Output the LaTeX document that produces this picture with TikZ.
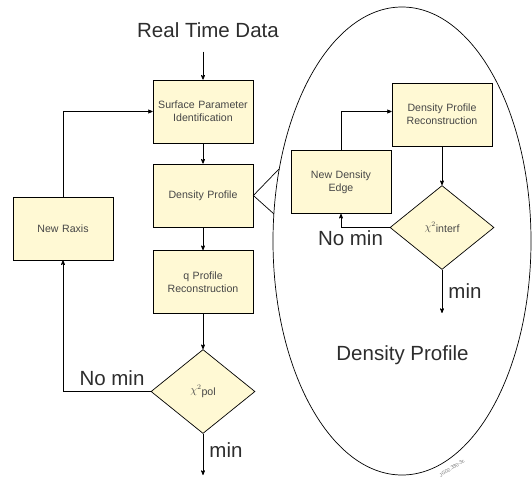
\documentclass[tikz,border=0pt]{standalone}
\usepackage{fontspec}
\setmainfont{Liberation Sans}
\usepackage{tikz}
\usetikzlibrary{arrows,shapes.geometric,positioning}
\definecolor{boxfill}{RGB}{255,249,212}
\definecolor{inktext}{RGB}{45,45,45}
\definecolor{boxtext}{RGB}{70,70,70}

\begin{document}
\begin{tikzpicture}[->,>=stealth',x=1pt,y=1pt,line width=0.7pt]
\tikzstyle{box}=[rectangle,draw,fill=boxfill,text=boxtext,minimum width=100pt,minimum height=63pt,text width=92pt,align=center,font=\fontsize{10.6}{13.3}\selectfont]
\tikzstyle{test}=[diamond,draw,fill=boxfill,text=boxtext,aspect=1.24,minimum width=104pt,minimum height=84pt,inner sep=0pt,font=\fontsize{10.6}{13.3}\selectfont]
\tikzstyle{big}=[text=inktext,anchor=base,inner sep=0pt,font=\fontsize{20.5}{24}\selectfont]

\useasboundingbox (0,0) rectangle (532,480);

% main loop
\node[big]  (title) at (208,442) {Real Time Data};
\node[box]  (surf) at (203,368.5) {Surface Parameter\\Identification};
\node[box]  (dens) [below of=surf, node distance=84pt] {Density Profile};
\node[box]  (qprof) [below of=dens, node distance=86.5pt] {q Profile\\Reconstruction};
\node[test] (chipol) [below of=qprof, node distance=109.5pt] {$\chi^{2}$\raisebox{-1.5pt}{pol}};
\node[box]  (raxis) at (63,251.5) {New Raxis};
\coordinate (polend) at (203,5);
\node[big]  (polno) at (112,95) {No min};
\node[big]  (polmin) at (226,23) {min};

% density profile detail
\draw[-] (402,239) ellipse [x radius=129pt, y radius=234pt];
\coordinate (rim1) at (279,311);
\coordinate (rim2) at (274,266);
\node[box]  (dpr) at (442,365.5) {Density Profile\\Reconstruction};
\node[box]  (nde) at (341,298) {New Density\\Edge};
\node[test] (chiint) [below of=dpr, node distance=113pt] {$\chi^{2}$\raisebox{-1.5pt}{interf}};
\coordinate (intend) at (442,167);
\node[big]  (intno) at (350.5,235) {No min};
\node[big]  (intmin) at (465,182) {min};
\node[big]  (inner) at (402.5,120) {Density Profile};
\node[text=black!55,inner sep=0pt,rotate=32,font=\fontsize{5}{6}\selectfont] (tag) at (452,12) {JG02.330-3c};

\path
(surf) edge (dens)
(dens) edge (qprof)
(qprof) edge (chipol)
(chipol) edge (polend)
(dpr) edge (chiint)
(chiint) edge (intend);
\draw ([yshift=-13pt]title.south -| surf.north) -- (surf);
\draw (chipol.west) -| (raxis.south);
\draw (raxis.north) |- (surf.west);
\draw (chiint.west) -| (nde.south);
\draw (nde.north) |- ([yshift=3pt]dpr.west);
\draw[-] (rim1) -- (dens.east) -- (rim2);
\end{tikzpicture}
\end{document}
